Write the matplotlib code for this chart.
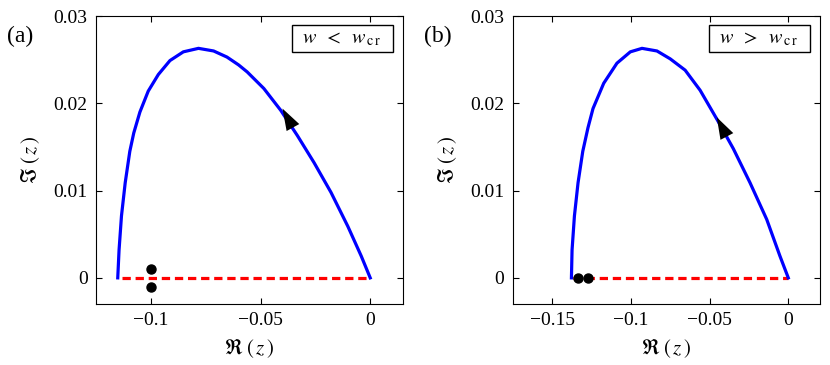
import matplotlib
matplotlib.use('Agg')
import matplotlib.pyplot as plt
from matplotlib.patches import Rectangle

plt.rcParams['font.family'] = ['Liberation Serif', 'DejaVu Serif']
plt.rcParams['mathtext.fontset'] = 'stix'

# panel (a): w < w_cr, curve
re_a = [-0.1151, -0.1145, -0.1134, -0.1117, -0.1096, -0.1078, -0.1050, -0.1012,
        -0.0966, -0.0913, -0.0852, -0.0783, -0.0714, -0.0653, -0.0600, -0.0561,
        -0.0485, -0.0408, -0.0332, -0.0256, -0.0179, -0.0102, -0.0041, 0.0]
im_a = [0.0, 0.0032, 0.0071, 0.0109, 0.0145, 0.0166, 0.0190, 0.0214,
        0.0233, 0.0249, 0.0259, 0.0263, 0.0260, 0.0253, 0.0244, 0.0236,
        0.0217, 0.0192, 0.0163, 0.0132, 0.0098, 0.0059, 0.0025, 0.0]
dash_a = [-0.1133, 0.0]
dots_re_a = [-0.1, -0.1]
dots_im_a = [0.00104, -0.00107]
arrow_a = [(-0.0332, 0.0163), (-0.0400, 0.0194)]   # tail, head

# panel (b): w > w_cr
re_b = [-0.1377, -0.1373, -0.1358, -0.1335, -0.1305, -0.1272, -0.1240, -0.1172,
        -0.1088, -0.1003, -0.0929, -0.0834, -0.0750, -0.0655, -0.0560, -0.0454,
        -0.0349, -0.0243, -0.0137, -0.0053, 0.0]
im_b = [0.0, 0.0032, 0.0071, 0.0109, 0.0145, 0.0172, 0.0194, 0.0223,
        0.0246, 0.0259, 0.0263, 0.0260, 0.0251, 0.0238, 0.0215, 0.0182,
        0.0148, 0.0109, 0.0067, 0.0025, 0.0]
dash_b = [-0.137, 0.0]
dots_re_b = [-0.1335, -0.1271]
dots_im_b = [0.0, 0.0]
arrow_b = [(-0.0349, 0.0148), (-0.0454, 0.0184)]

panels = [
    dict(re=re_a, im=im_a, dash=dash_a, dre=dots_re_a, dim=dots_im_a, arr=arrow_a,
         xlim=(-0.125, 0.015), xticks=[-0.1, -0.05, 0], xtl=['\u22120.1', '\u22120.05', '0'],
         label='(a)', box=r'$w\;\;<\;\;w_{\,\mathrm{c\,r}}$',
         pos=[0.1157, 0.167, 0.370, 0.789]),
    dict(re=re_b, im=im_b, dash=dash_b, dre=dots_re_b, dim=dots_im_b, arr=arrow_b,
         xlim=(-0.175, 0.02), xticks=[-0.15, -0.1, -0.05, 0],
         xtl=['\u22120.15', '\u22120.1', '\u22120.05', '0'],
         label='(b)', box=r'$w\;\;>\;\;w_{\,\mathrm{c\,r}}$',
         pos=[0.6177, 0.167, 0.370, 0.789]),
]

fig = plt.figure(figsize=(8.3, 3.65), dpi=100)

for p in panels:
    ax = fig.add_axes(p['pos'])
    ax.plot(p['dash'], [0, 0], color='red', lw=2.3, dashes=(2.6, 1.5), zorder=2)
    ax.plot(p['re'], p['im'], color='blue', lw=2.3, zorder=3, solid_joinstyle='round')
    ax.plot(p['dre'], p['dim'], 'o', color='black', ms=6.5, zorder=4)
    (x0, y0), (x1, y1) = p['arr']
    ax.annotate('', xy=(x1, y1), xytext=(x0, y0),
                arrowprops=dict(arrowstyle='-|>,head_length=1.2,head_width=0.4',
                                mutation_scale=13, color='black', lw=0,
                                shrinkA=0, shrinkB=0), zorder=5)
    ax.set_xlim(*p['xlim'])
    ax.set_ylim(-0.003, 0.03)
    ax.set_xticks(p['xticks'])
    ax.set_xticklabels(p['xtl'])
    ax.set_yticks([0, 0.01, 0.02, 0.03])
    ax.set_yticklabels(['0', '0.01', '0.02', '0.03'])
    ax.tick_params(direction='in', top=True, right=True, length=4, labelsize=14, pad=6)
    ax.set_xlabel(r'$\Re\;(\,z\,)$', fontsize=15, labelpad=6)
    ax.set_ylabel(r'$\Im\;(\,z\,)$', fontsize=15, labelpad=8)
    ax.text(-0.29, 0.93, p['label'], transform=ax.transAxes, fontsize=17, va='center')
    ax.add_patch(Rectangle((0.638, 0.875), 0.329, 0.094, transform=ax.transAxes,
                           fc='white', ec='black', lw=1, zorder=6))
    ax.text(0.80, 0.921, p['box'], transform=ax.transAxes, fontsize=14.5,
            ha='center', va='center', zorder=7)

fig.savefig('out.png', dpi=100)
